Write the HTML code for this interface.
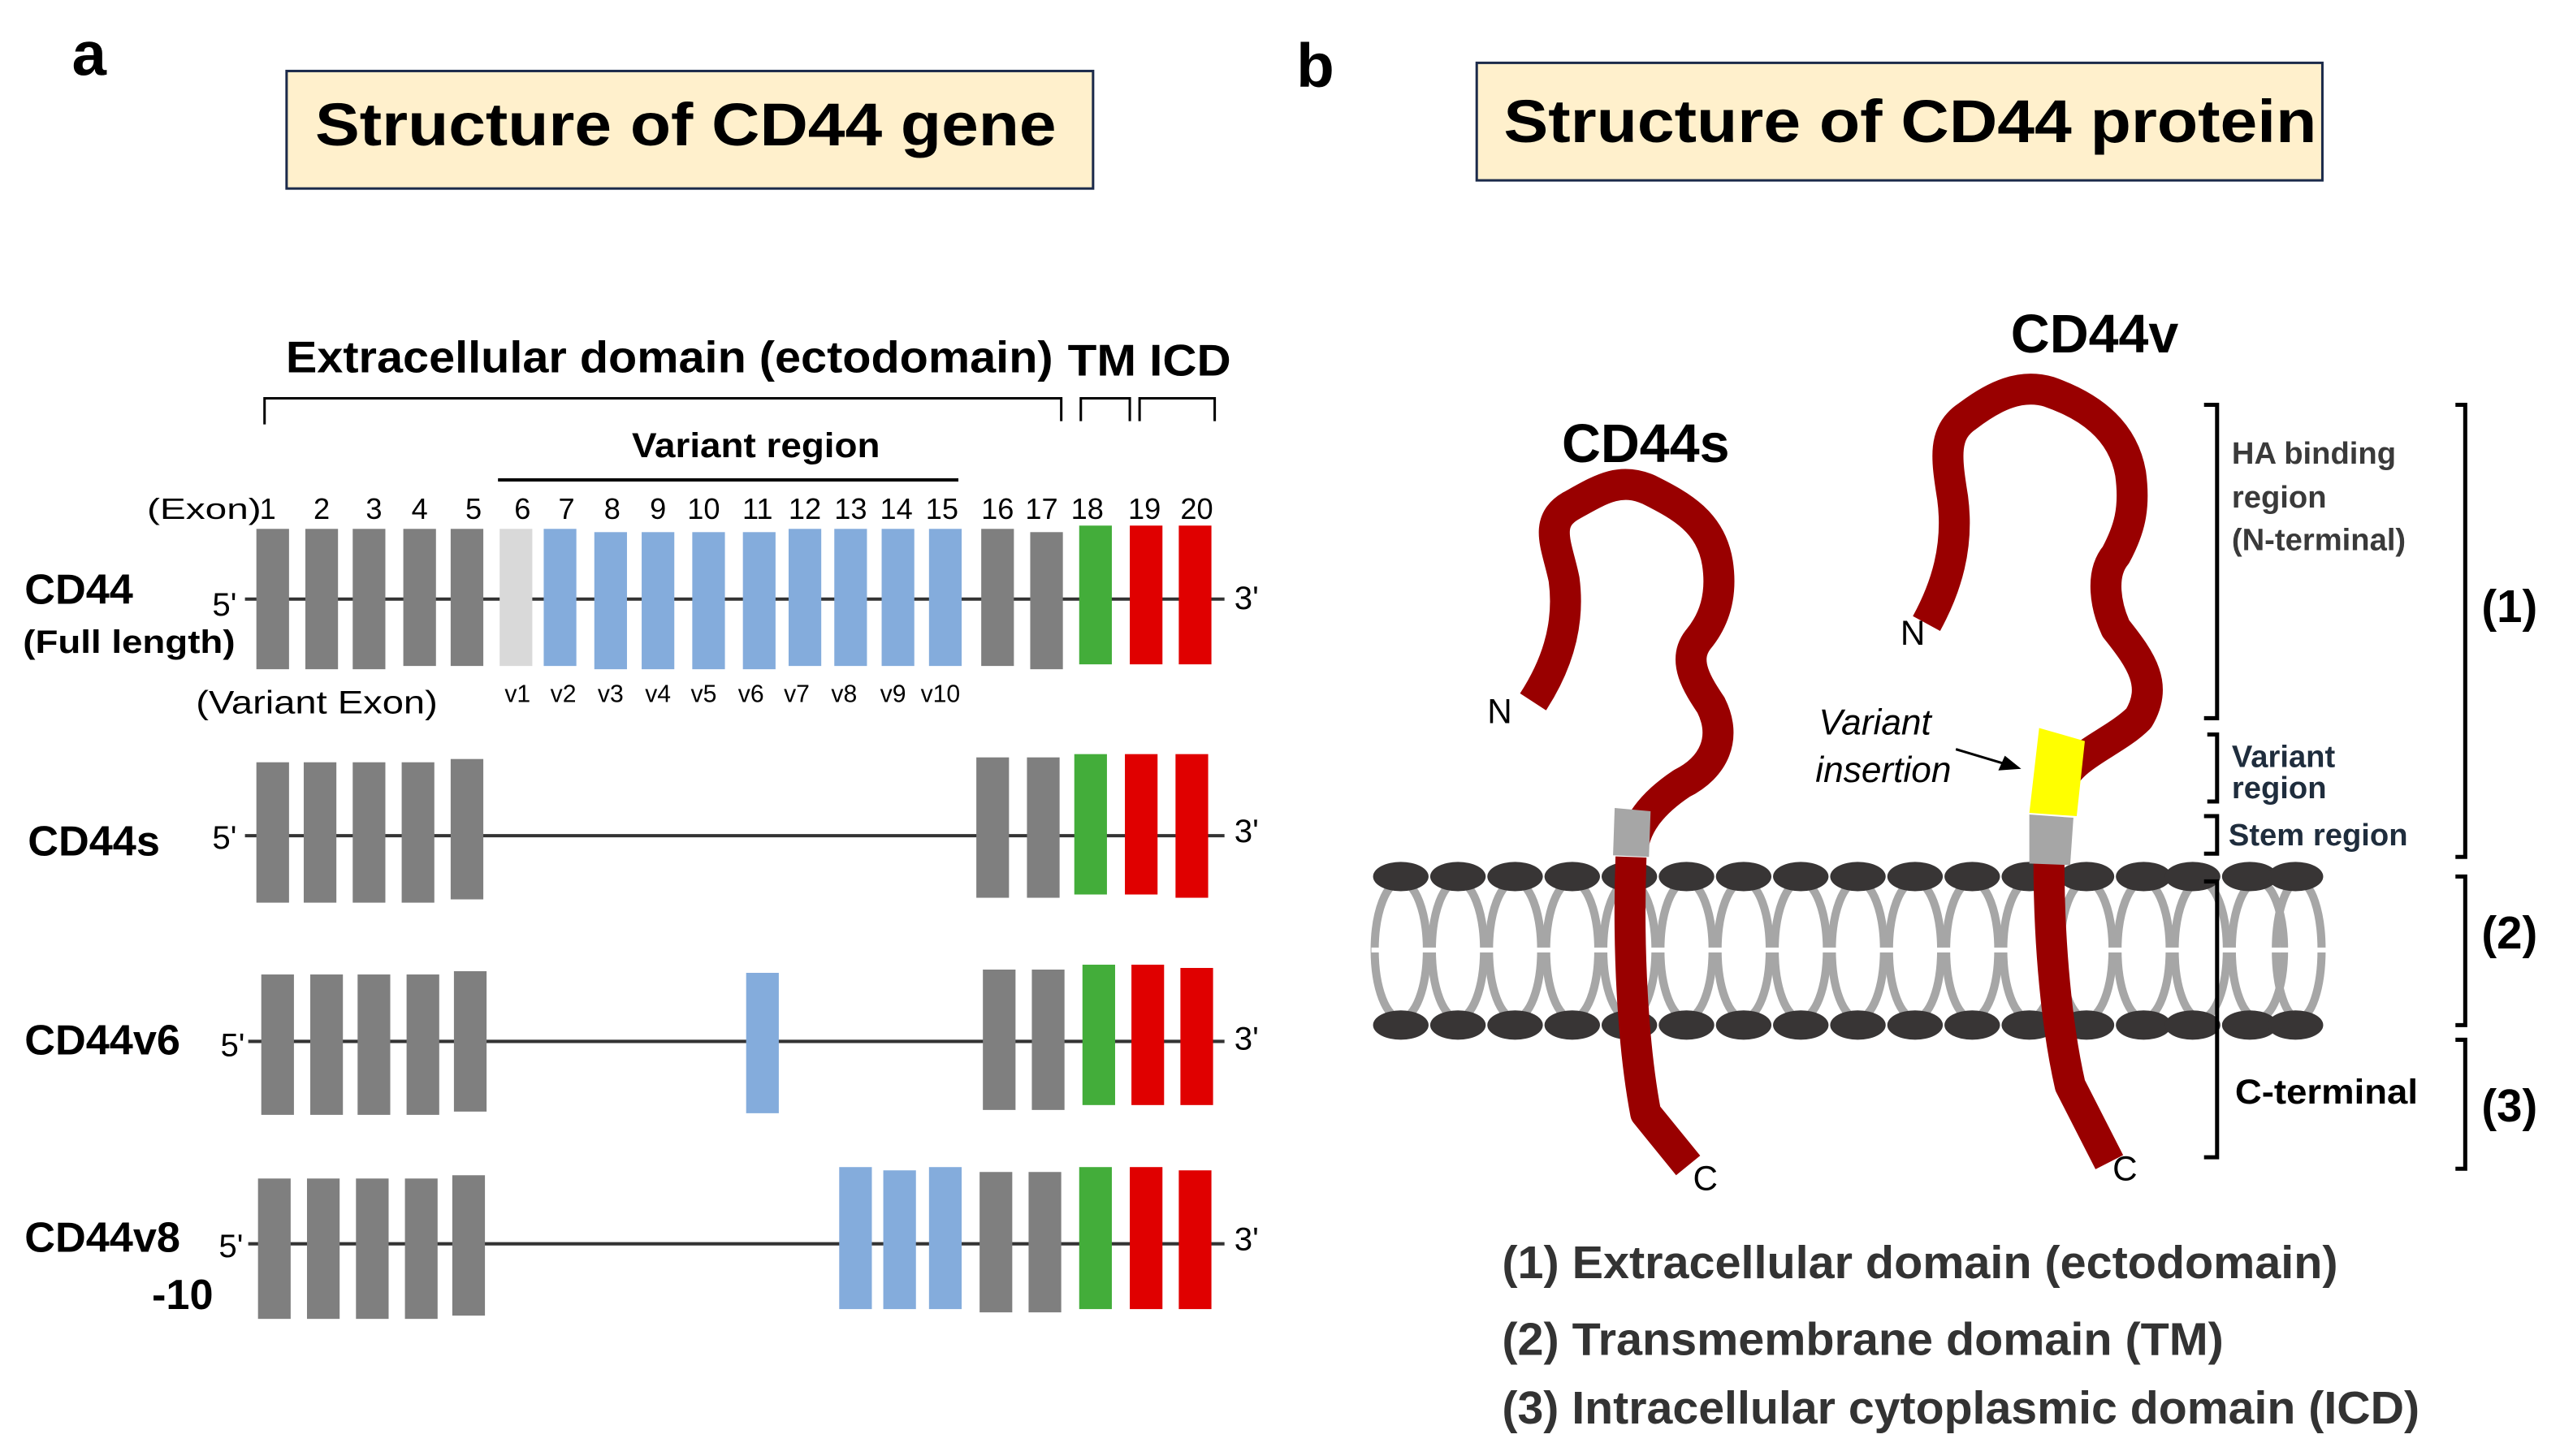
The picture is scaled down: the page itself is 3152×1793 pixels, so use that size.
<!DOCTYPE html>
<html><head><meta charset="utf-8"><style>
html,body{margin:0;padding:0;background:#fff;}
svg{display:block;}
text{font-family:"Liberation Sans",Arial,sans-serif;}
.d{font-family:"DejaVu Sans",sans-serif;font-weight:bold;}
</style></head><body>
<svg width="3152" height="1793" viewBox="0 0 1568 892" xmlns="http://www.w3.org/2000/svg">
<rect width="1568" height="892" fill="#fff"/>
<!-- Panel a -->
<text x="44" y="46" font-size="38" font-weight="bold">a</text>
<rect x="175.5" y="43.5" width="494" height="72" fill="#FFF0CC" stroke="#1b2a4a" stroke-width="1.5"/>
<text x="193" y="89" font-size="37" font-weight="bold" textLength="454" lengthAdjust="spacingAndGlyphs">Structure of CD44 gene</text>

<text x="175" y="228" font-size="27" font-weight="bold" textLength="470" lengthAdjust="spacingAndGlyphs">Extracellular domain (ectodomain)</text>
<text x="654" y="230" font-size="27" font-weight="bold" textLength="42" lengthAdjust="spacingAndGlyphs">TM</text>
<text x="704" y="230" font-size="27" font-weight="bold" textLength="50" lengthAdjust="spacingAndGlyphs">ICD</text>
<path d="M162 260 V244 H650 V258 M662 258 V244 H692 V258 M698 258 V244 H744 V258" fill="none" stroke="#000" stroke-width="1.5"/>
<text x="387" y="280" font-size="21" font-weight="bold" textLength="152" lengthAdjust="spacingAndGlyphs">Variant region</text>
<line x1="305" y1="294" x2="587" y2="294" stroke="#000" stroke-width="2"/>

<g font-size="18" text-anchor="middle">
<text x="125" y="318" textLength="70" lengthAdjust="spacingAndGlyphs">(Exon)</text>
<text x="164" y="318">1</text><text x="197" y="318">2</text><text x="229" y="318">3</text><text x="257" y="318">4</text><text x="290" y="318">5</text><text x="320" y="318">6</text><text x="347" y="318">7</text><text x="375" y="318">8</text><text x="403" y="318">9</text><text x="431" y="318">10</text><text x="464" y="318">11</text><text x="493" y="318">12</text><text x="521" y="318">13</text><text x="549" y="318">14</text><text x="577" y="318">15</text><text x="611" y="318">16</text><text x="638" y="318">17</text><text x="666" y="318">18</text><text x="701" y="318">19</text><text x="733" y="318">20</text>
</g>

<!-- CD44 full length -->
<line x1="150" y1="367" x2="750" y2="367" stroke="#333" stroke-width="2"/>
<g fill="#7f7f7f">
<rect x="157" y="324" width="20" height="86"/><rect x="187" y="324" width="20" height="86"/><rect x="216" y="324" width="20" height="86"/><rect x="247" y="324" width="20" height="84"/><rect x="276" y="324" width="20" height="84"/>
<rect x="601" y="324" width="20" height="84"/><rect x="631" y="326" width="20" height="84"/>
</g>
<rect x="306" y="324" width="20" height="84" fill="#d9d9d9"/>
<g fill="#84acdc">
<rect x="333" y="324" width="20" height="84"/><rect x="364" y="326" width="20" height="84"/><rect x="393" y="326" width="20" height="84"/><rect x="424" y="326" width="20" height="84"/><rect x="455" y="326" width="20" height="84"/><rect x="483" y="324" width="20" height="84"/><rect x="511" y="324" width="20" height="84"/><rect x="540" y="324" width="20" height="84"/><rect x="569" y="324" width="20" height="84"/>
</g>
<rect x="661" y="322" width="20" height="85" fill="#43ad3a"/>
<rect x="692" y="322" width="20" height="85" fill="#e00000"/><rect x="722" y="322" width="20" height="85" fill="#e00000"/>
<text x="130" y="377" font-size="20">5'</text><text x="756" y="373" font-size="20">3'</text>
<text x="15" y="370" font-size="26" font-weight="bold">CD44</text>
<text x="14" y="400" font-size="20" font-weight="bold" textLength="130" lengthAdjust="spacingAndGlyphs">(Full length)</text>
<text x="120" y="437" font-size="20" textLength="148" lengthAdjust="spacingAndGlyphs">(Variant Exon)</text>
<g font-size="15" text-anchor="middle">
<text x="317" y="430">v1</text><text x="345" y="430">v2</text><text x="374" y="430">v3</text><text x="403" y="430">v4</text><text x="431" y="430">v5</text><text x="460" y="430">v6</text><text x="488" y="430">v7</text><text x="517" y="430">v8</text><text x="547" y="430">v9</text><text x="576" y="430">v10</text>
</g>

<!-- CD44s -->
<line x1="150" y1="512" x2="750" y2="512" stroke="#333" stroke-width="2"/>
<g fill="#7f7f7f">
<rect x="157" y="467" width="20" height="86"/><rect x="186" y="467" width="20" height="86"/><rect x="216" y="467" width="20" height="86"/><rect x="246" y="467" width="20" height="86"/><rect x="276" y="465" width="20" height="86"/>
<rect x="598" y="464" width="20" height="86"/><rect x="629" y="464" width="20" height="86"/>
</g>
<rect x="658" y="462" width="20" height="86" fill="#43ad3a"/>
<rect x="689" y="462" width="20" height="86" fill="#e00000"/><rect x="720" y="462" width="20" height="88" fill="#e00000"/>
<text x="130" y="520" font-size="20">5'</text><text x="756" y="516" font-size="20">3'</text>
<text x="17" y="524" font-size="26" font-weight="bold">CD44s</text>

<!-- CD44v6 -->
<line x1="152" y1="638" x2="750" y2="638" stroke="#333" stroke-width="2"/>
<g fill="#7f7f7f">
<rect x="160" y="597" width="20" height="86"/><rect x="190" y="597" width="20" height="86"/><rect x="219" y="597" width="20" height="86"/><rect x="249" y="597" width="20" height="86"/><rect x="278" y="595" width="20" height="86"/>
<rect x="602" y="594" width="20" height="86"/><rect x="632" y="594" width="20" height="86"/>
</g>
<rect x="457" y="596" width="20" height="86" fill="#84acdc"/>
<rect x="663" y="591" width="20" height="86" fill="#43ad3a"/>
<rect x="693" y="591" width="20" height="86" fill="#e00000"/><rect x="723" y="593" width="20" height="84" fill="#e00000"/>
<text x="135" y="647" font-size="20">5'</text><text x="756" y="643" font-size="20">3'</text>
<text x="15" y="646" font-size="26" font-weight="bold">CD44v6</text>

<!-- CD44v8-10 -->
<line x1="152" y1="762" x2="750" y2="762" stroke="#333" stroke-width="2"/>
<g fill="#7f7f7f">
<rect x="158" y="722" width="20" height="86"/><rect x="188" y="722" width="20" height="86"/><rect x="218" y="722" width="20" height="86"/><rect x="248" y="722" width="20" height="86"/><rect x="277" y="720" width="20" height="86"/>
<rect x="600" y="718" width="20" height="86"/><rect x="630" y="718" width="20" height="86"/>
</g>
<g fill="#84acdc"><rect x="514" y="715" width="20" height="87"/><rect x="541" y="717" width="20" height="85"/><rect x="569" y="715" width="20" height="87"/></g>
<rect x="661" y="715" width="20" height="87" fill="#43ad3a"/>
<rect x="692" y="715" width="20" height="87" fill="#e00000"/><rect x="722" y="717" width="20" height="85" fill="#e00000"/>
<text x="134" y="770" font-size="20">5'</text><text x="756" y="766" font-size="20">3'</text>
<text x="15" y="767" font-size="26" font-weight="bold">CD44v8</text>
<text x="93" y="802" font-size="26" font-weight="bold">-10</text>

<!-- Panel b -->
<text x="794" y="53" font-size="38" font-weight="bold">b</text>
<rect x="904.5" y="38.5" width="518" height="72" fill="#FFF0CC" stroke="#1b2a4a" stroke-width="1.5"/>
<text x="921" y="87" font-size="37" font-weight="bold" textLength="498" lengthAdjust="spacingAndGlyphs">Structure of CD44 protein</text>
<text x="1008" y="283" font-size="33" font-weight="bold" text-anchor="middle">CD44s</text>
<text x="1283" y="216" font-size="33" font-weight="bold" text-anchor="middle">CD44v</text>

<!-- membrane -->
<g id="mem">
<g fill="none" stroke="#a6a6a6" stroke-width="5">
<ellipse cx="858" cy="582" rx="16" ry="42"/><ellipse cx="893" cy="582" rx="16" ry="42"/><ellipse cx="928" cy="582" rx="16" ry="42"/><ellipse cx="963" cy="582" rx="16" ry="42"/><ellipse cx="998" cy="582" rx="16" ry="42"/><ellipse cx="1033" cy="582" rx="16" ry="42"/><ellipse cx="1068" cy="582" rx="16" ry="42"/><ellipse cx="1103" cy="582" rx="16" ry="42"/><ellipse cx="1138" cy="582" rx="16" ry="42"/><ellipse cx="1173" cy="582" rx="16" ry="42"/><ellipse cx="1208" cy="582" rx="16" ry="42"/><ellipse cx="1243" cy="582" rx="16" ry="42"/><ellipse cx="1278" cy="582" rx="16" ry="42"/><ellipse cx="1313" cy="582" rx="16" ry="42"/><ellipse cx="1348" cy="582" rx="16" ry="42"/><ellipse cx="1383" cy="582" rx="16" ry="42"/><ellipse cx="1408" cy="582" rx="14" ry="42"/>
</g>
<line x1="840" y1="582" x2="1430" y2="582" stroke="#fff" stroke-width="3"/>
<g fill="#383535">
<ellipse cx="858" cy="537" rx="17" ry="9"/><ellipse cx="893" cy="537" rx="17" ry="9"/><ellipse cx="928" cy="537" rx="17" ry="9"/><ellipse cx="963" cy="537" rx="17" ry="9"/><ellipse cx="998" cy="537" rx="17" ry="9"/><ellipse cx="1033" cy="537" rx="17" ry="9"/><ellipse cx="1068" cy="537" rx="17" ry="9"/><ellipse cx="1103" cy="537" rx="17" ry="9"/><ellipse cx="1138" cy="537" rx="17" ry="9"/><ellipse cx="1173" cy="537" rx="17" ry="9"/><ellipse cx="1208" cy="537" rx="17" ry="9"/><ellipse cx="1243" cy="537" rx="17" ry="9"/><ellipse cx="1278" cy="537" rx="17" ry="9"/><ellipse cx="1313" cy="537" rx="17" ry="9"/><ellipse cx="1343" cy="537" rx="17" ry="9"/><ellipse cx="1378" cy="537" rx="17" ry="9"/><ellipse cx="1406" cy="537" rx="17" ry="9"/>
<ellipse cx="858" cy="628" rx="17" ry="9"/><ellipse cx="893" cy="628" rx="17" ry="9"/><ellipse cx="928" cy="628" rx="17" ry="9"/><ellipse cx="963" cy="628" rx="17" ry="9"/><ellipse cx="998" cy="628" rx="17" ry="9"/><ellipse cx="1033" cy="628" rx="17" ry="9"/><ellipse cx="1068" cy="628" rx="17" ry="9"/><ellipse cx="1103" cy="628" rx="17" ry="9"/><ellipse cx="1138" cy="628" rx="17" ry="9"/><ellipse cx="1173" cy="628" rx="17" ry="9"/><ellipse cx="1208" cy="628" rx="17" ry="9"/><ellipse cx="1243" cy="628" rx="17" ry="9"/><ellipse cx="1278" cy="628" rx="17" ry="9"/><ellipse cx="1313" cy="628" rx="17" ry="9"/><ellipse cx="1343" cy="628" rx="17" ry="9"/><ellipse cx="1378" cy="628" rx="17" ry="9"/><ellipse cx="1406" cy="628" rx="17" ry="9"/>
</g>
</g>

<!-- CD44s chain -->
<g fill="none" stroke="#990000" stroke-width="19" stroke-linejoin="round">
<path d="M939 430 C952 410 962 385 958 355 C954 335 945 320 962 310 C980 300 992 292 1010 300 C1030 310 1048 320 1052 345 C1055 365 1050 380 1040 392 C1030 405 1040 420 1048 432 C1058 452 1050 470 1030 480 C1012 492 1002 505 1000 520"/>
<path d="M999 525 C997 580 1000 640 1008 682 L1034 714"/>
</g>
<polygon points="989,495 1011,497 1010,525 988,524" fill="#a6a6a6"/>

<!-- CD44v chain -->
<g fill="none" stroke="#990000" stroke-width="19" stroke-linejoin="round">
<path d="M1180 382 C1192 360 1200 335 1196 305 C1192 280 1190 265 1205 255 C1222 242 1238 235 1255 240 C1278 248 1300 262 1305 290 C1308 312 1304 325 1296 340 C1286 352 1290 372 1296 385 C1312 405 1322 420 1310 440 C1295 455 1270 462 1262 480"/>
<path d="M1255 527 C1255 580 1260 630 1268 665 L1292 712"/>
</g>
<polygon points="1249,446 1277,454 1272,500 1243,498" fill="#ffff00"/>
<polygon points="1243,499 1270,501 1268,530 1243,529" fill="#a6a6a6"/>

<g font-size="21">
<text x="911" y="443">N</text><text x="1164" y="395">N</text>
<text x="1037" y="729">C</text><text x="1294" y="723">C</text>
</g>
<text x="1114" y="450" font-size="22" font-style="italic">Variant</text>
<text x="1112" y="479" font-size="22" font-style="italic">insertion</text>
<line x1="1198" y1="459" x2="1228" y2="468" stroke="#000" stroke-width="1.5"/>
<polygon points="1238,471 1224,472 1228,463" fill="#000"/>

<!-- brackets -->
<g fill="none" stroke="#000" stroke-width="2.5">
<path d="M1350 248 H1358 V440 H1350"/>
<path d="M1352 450 H1358 V491 H1352"/>
<path d="M1350 500 H1358 V523 H1350"/>
<path d="M1350 540 H1358 V709 H1350"/>
<path d="M1504 248 H1510 V525 H1504"/>
<path d="M1504 537 H1510 V628 H1504"/>
<path d="M1504 637 H1510 V716 H1504"/>
</g>
<g class="d" font-size="19" fill="#3a3a3a">
<text x="1367" y="284">HA binding</text>
<text x="1367" y="311">region</text>
<text x="1367" y="337">(N-terminal)</text>
</g>
<g class="d" font-size="19" fill="#1f2d3d">
<text x="1367" y="470">Variant</text>
<text x="1367" y="489">region</text>
<text x="1365" y="518">Stem region</text>
</g>
<text x="1369" y="676" font-size="21" font-weight="bold" textLength="112" lengthAdjust="spacingAndGlyphs">C-terminal</text>
<g font-size="28" font-weight="bold">
<text x="1520" y="381">(1)</text><text x="1520" y="581">(2)</text><text x="1520" y="687">(3)</text>
</g>

<!-- legend -->
<g font-size="28" font-weight="bold" fill="#333">
<text x="920" y="783" textLength="512" lengthAdjust="spacingAndGlyphs">(1) Extracellular domain (ectodomain)</text>
<text x="920" y="830" textLength="442" lengthAdjust="spacingAndGlyphs">(2) Transmembrane domain (TM)</text>
<text x="920" y="872" textLength="562" lengthAdjust="spacingAndGlyphs">(3) Intracellular cytoplasmic domain (ICD)</text>
</g>
</svg>
</body></html>
